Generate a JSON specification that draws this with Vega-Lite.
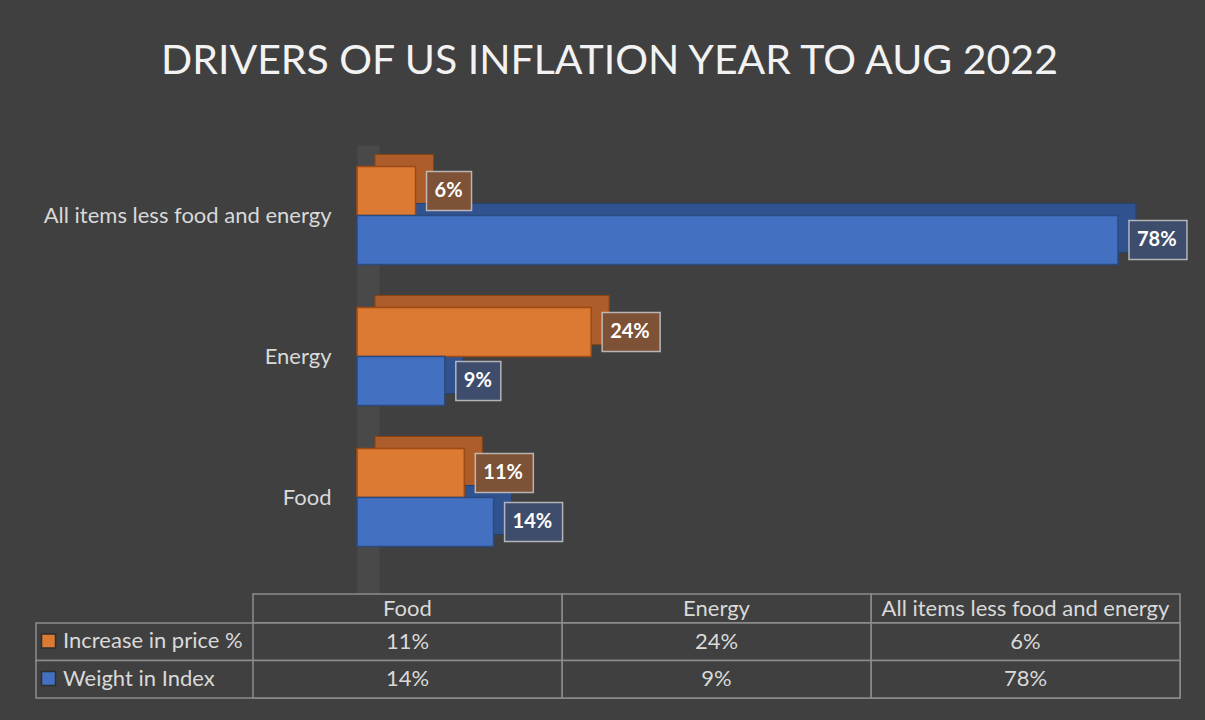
{
  "$schema": "https://vega.github.io/schema/vega-lite/v6.json",
  "background": "#404040",
  "padding": {"left": 35, "top": 41, "right": 17, "bottom": 22},
  "config": {"view": {"stroke": null}, "font": "Lato"},
  "title": {"text": "DRIVERS OF US INFLATION YEAR TO AUG 2022", "fontSize": 41, "font": "Lato", "fontWeight": "normal", "color": "#f2f2f2", "anchor": "middle", "offset": 62, "dx": -2},
  "datasets": {
    "bars": [
      {"category": "All items less food and energy", "series": "Increase in price %", "value": 0.06},
      {"category": "All items less food and energy", "series": "Weight in Index", "value": 0.78},
      {"category": "Energy", "series": "Increase in price %", "value": 0.24},
      {"category": "Energy", "series": "Weight in Index", "value": 0.09},
      {"category": "Food", "series": "Increase in price %", "value": 0.11},
      {"category": "Food", "series": "Weight in Index", "value": 0.14}
    ]
  },
  "bounds": "flush",
  "spacing": 0,
  "vconcat": [
    {
      "width": 1144,
      "height": 448.5,
      "data": {"name": "bars"},
      "resolve": {"scale": {"yOffset": "independent"}},
      "encoding": {
        "y": {"field": "category", "type": "nominal", "sort": ["All items less food and energy", "Energy", "Food"],
          "scale": {"paddingInner": 0.305, "paddingOuter": 0.2429, "align": 0.3139},
          "axis": {"title": null, "labelFontSize": 22, "labelColor": "#d9d9d9", "ticks": false, "tickSize": 0, "labelPadding": 37, "domainColor": "#494949", "domainWidth": 22, "offset": -332, "labelLimit": 400}},
        "x": {"field": "value", "type": "quantitative", "scale": {"domain": [-0.32903, 0.84358], "nice": false, "zero": false}, "axis": null}
      },
      "layer": [
        {
          "mark": {"type": "bar", "xOffset": 18, "x2Offset": 18, "strokeWidth": 1},
          "encoding": {
            "yOffset": {"field": "series", "type": "nominal", "sort": ["Increase in price %", "Weight in Index"], "scale": {"type": "band", "range": [-12, 86], "paddingInner": 0, "paddingOuter": 0}},
            "fill": {"condition": {"test": "datum.series === 'Increase in price %'", "value": "#ad5d2a"}, "value": "#30528f"},
            "stroke": {"condition": {"test": "datum.series === 'Increase in price %'", "value": "#8a4412"}, "value": "#24406f"}
          }
        },
        {
          "mark": {"type": "bar", "strokeWidth": 1.5},
          "encoding": {
            "yOffset": {"field": "series", "type": "nominal", "sort": ["Increase in price %", "Weight in Index"], "scale": {"type": "band", "paddingInner": 0, "paddingOuter": 0}},
            "color": {"field": "series", "type": "nominal", "scale": {"domain": ["Increase in price %", "Weight in Index"], "range": ["#dc7a34", "#4370c0"]},
              "legend": {"orient": "none", "legendX": 1.5, "legendY": 485, "title": null, "labelFontSize": 22, "labelColor": "#d9d9d9", "labelLimit": 400, "symbolType": "square", "symbolSize": 196, "rowPadding": 15.5, "labelOffset": 3.5, "padding": 0, "symbolStrokeWidth": 1.5, "symbolStrokeColor": "#2e2e2e"}},
            "stroke": {"condition": {"test": "datum.series === 'Increase in price %'", "value": "#9c4a14"}, "value": "#2a4a80"}
          }
        },
        {
          "transform": [{"filter": "datum.value >= 0.1"}],
          "mark": {"type": "rect", "xOffset": 11, "x2Offset": 69, "height": 39, "strokeWidth": 1.5, "stroke": "#cfcfcf", "strokeOpacity": 0.8},
          "encoding": {
            "yOffset": {"field": "series", "type": "nominal", "sort": ["Increase in price %", "Weight in Index"], "scale": {"type": "band", "paddingInner": 0, "paddingOuter": 0}},
            "x2": {"field": "value"},
            "fill": {"condition": {"test": "datum.series === 'Increase in price %'", "value": "#7d5236"}, "value": "#3e4d6b"}
          }
        },
        {
          "transform": [{"filter": "datum.value < 0.1"}],
          "mark": {"type": "rect", "xOffset": 11, "x2Offset": 56, "height": 39, "strokeWidth": 1.5, "stroke": "#cfcfcf", "strokeOpacity": 0.8},
          "encoding": {
            "yOffset": {"field": "series", "type": "nominal", "sort": ["Increase in price %", "Weight in Index"], "scale": {"type": "band", "paddingInner": 0, "paddingOuter": 0}},
            "x2": {"field": "value"},
            "fill": {"condition": {"test": "datum.series === 'Increase in price %'", "value": "#7d5236"}, "value": "#3e4d6b"}
          }
        },
        {
          "mark": {"type": "text", "align": "left", "baseline": "middle", "dx": 19, "fontSize": 20, "fontWeight": "bold", "color": "#ffffff"},
          "encoding": {
            "yOffset": {"field": "series", "type": "nominal", "sort": ["Increase in price %", "Weight in Index"], "scale": {"type": "band", "paddingInner": 0, "paddingOuter": 0}},
            "text": {"field": "value", "format": ".0%"}
          }
        }
      ]
    },
    {
      "width": 1144,
      "height": 29,
      "data": {"name": "bars"},
      "transform": [{"filter": "datum.series === 'Weight in Index'"}],
      "encoding": {
        "x": {"field": "category", "type": "nominal", "sort": ["Food", "Energy", "All items less food and energy"], "scale": {"paddingInner": 0, "paddingOuter": 0.35113, "align": 1}, "axis": null}
      },
      "layer": [
        {"mark": {"type": "rect", "fill": "#404040", "stroke": "#8c8c8c", "strokeWidth": 1.5}},
        {"mark": {"type": "text", "fontSize": 22, "color": "#d9d9d9", "baseline": "middle"}, "encoding": {"text": {"field": "category"}}}
      ]
    },
    {
      "width": 1144,
      "height": 75,
      "data": {"name": "bars"},
      "layer": [
        {
          "transform": [{"filter": "datum.category === 'Food'"}],
          "mark": {"type": "rect", "fill": "#404040", "stroke": "#8c8c8c", "strokeWidth": 1.5},
          "encoding": {
            "y": {"field": "series", "type": "nominal", "sort": ["Increase in price %", "Weight in Index"], "scale": {"paddingInner": 0, "paddingOuter": 0}, "axis": null}
          }
        },
        {
          "mark": {"type": "rect", "fill": "#404040", "stroke": "#8c8c8c", "strokeWidth": 1.5},
          "encoding": {
            "x": {"field": "category", "type": "nominal", "sort": ["Food", "Energy", "All items less food and energy"], "scale": {"paddingInner": 0, "paddingOuter": 0.35113, "align": 1}, "axis": null},
            "y": {"field": "series", "type": "nominal", "sort": ["Increase in price %", "Weight in Index"], "axis": null}
          }
        },
        {
          "mark": {"type": "text", "fontSize": 22, "color": "#d9d9d9", "baseline": "middle"},
          "encoding": {
            "x": {"field": "category", "type": "nominal", "sort": ["Food", "Energy", "All items less food and energy"], "axis": null},
            "y": {"field": "series", "type": "nominal", "sort": ["Increase in price %", "Weight in Index"], "axis": null},
            "text": {"field": "value", "format": ".0%"}
          }
        }
      ]
    }
  ]
}
